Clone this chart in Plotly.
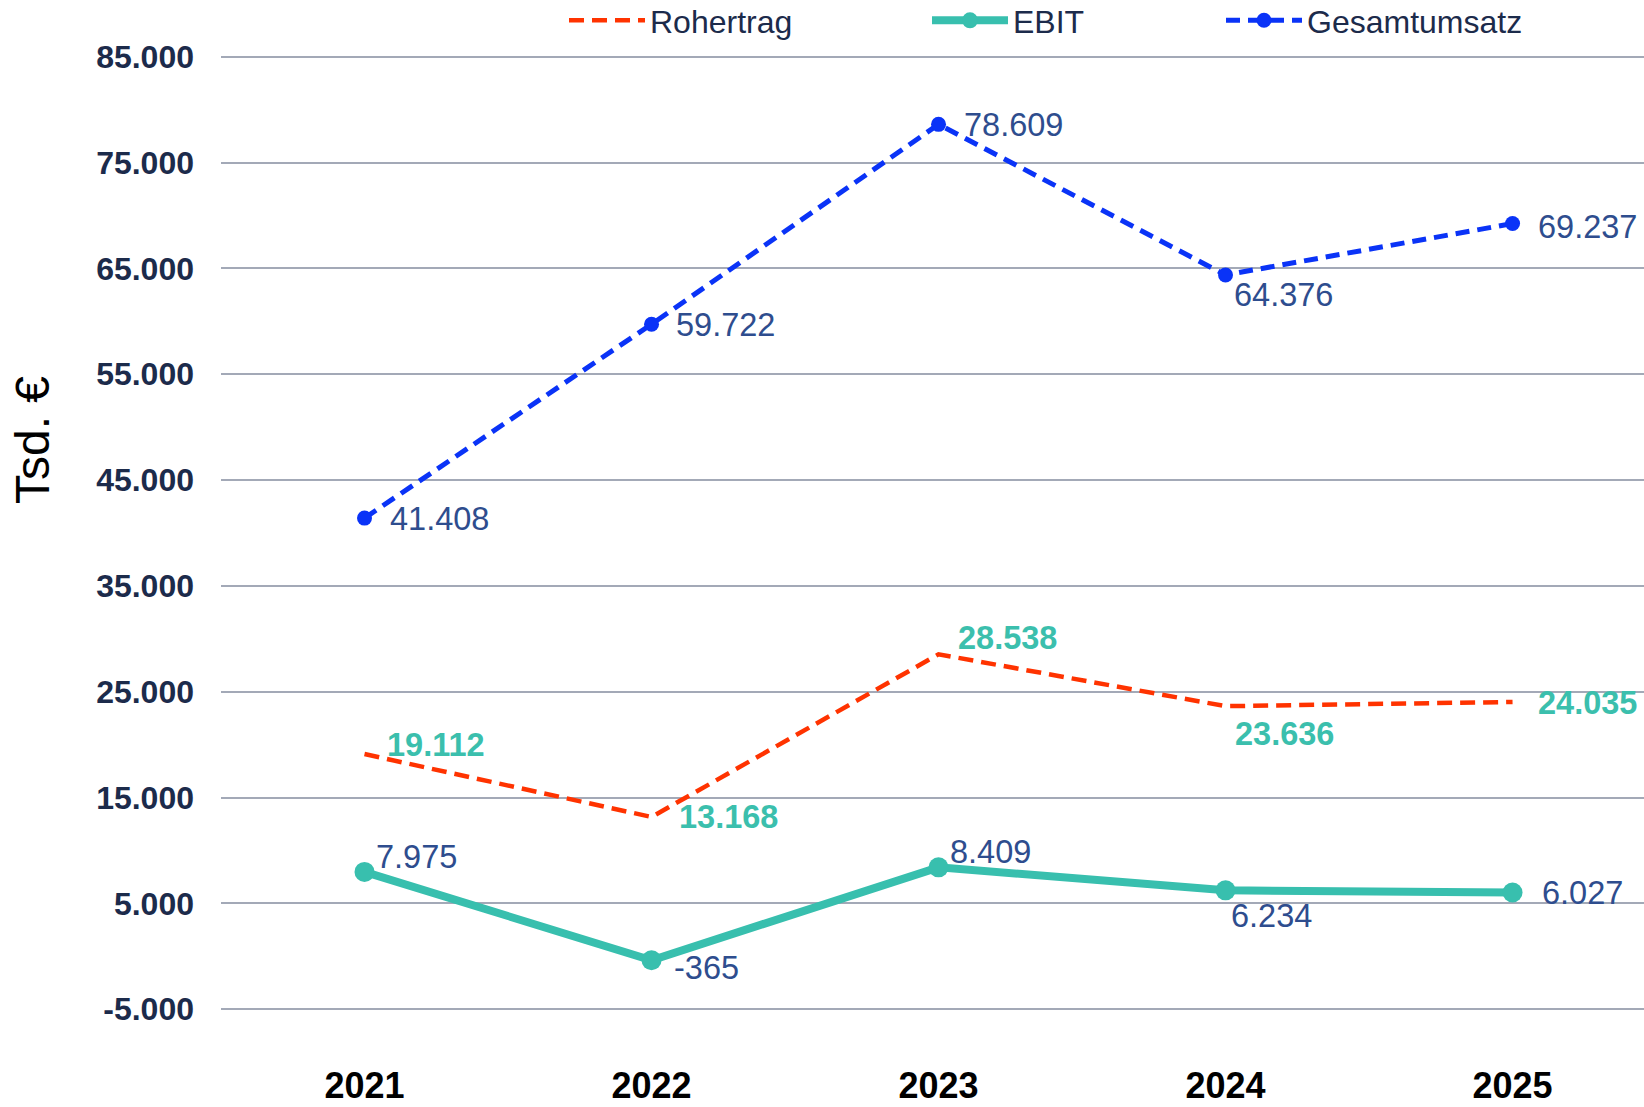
import plotly.graph_objects as go

# Jahre und Kennzahlen (Tsd. €)
jahre = [2021, 2022, 2023, 2024, 2025]
rohertrag = [19112, 13168, 28538, 23636, 24035]
ebit = [7975, -365, 8409, 6234, 6027]
gesamtumsatz = [41408, 59722, 78609, 64376, 69237]

y_ticks = [-5000, 5000, 15000, 25000, 35000, 45000, 55000, 65000, 75000, 85000]

# Versatz der Datenbeschriftungen (px: rechts, unten)
off_roh = [(20, -9), (25, 0), (17, -16), (7, 28), (23, 1)]
off_ebit = [(9, -15), (20, 8), (9, -15), (3, 26), (27, 0)]
off_ges = [(23, 1), (22, 1), (23, 1), (6, 20), (23, 3)]


def de(v):
    # deutsches Tausendertrennzeichen
    return f"{v:,.0f}".replace(",", ".")


FONT = "Arial, Liberation Sans, sans-serif"
NAVY = "#1c2b4b"
LBL_BLUE = "#2e4d8e"
TEAL = "#38bfae"
RED = "#ff3300"
BLUE = "#0a33f7"

W, H = 1644, 1107
L, T, B = 221, 45, 45
PW, PH = W - L, H - T - B

fig = go.Figure()

fig.add_trace(go.Scatter(
    x=jahre, y=rohertrag, name="Rohertrag", legend="legend",
    mode="lines",
    line=dict(color=RED, width=4.5, dash="15px,8px"),
    cliponaxis=False,
))
fig.add_trace(go.Scatter(
    x=jahre, y=ebit, name="EBIT", legend="legend2",
    mode="lines+markers",
    line=dict(color=TEAL, width=8),
    marker=dict(size=20, color=TEAL),
    cliponaxis=False,
))
fig.add_trace(go.Scatter(
    x=jahre, y=gesamtumsatz, name="Gesamtumsatz", legend="legend3",
    mode="lines+markers",
    line=dict(color=BLUE, width=5, dash="14px,8px"),
    marker=dict(size=15, color=BLUE),
    cliponaxis=False,
))

labels = []
for vals, offs, col, bold in [(rohertrag, off_roh, "#3bbfad", True),
                              (ebit, off_ebit, LBL_BLUE, False),
                              (gesamtumsatz, off_ges, LBL_BLUE, False)]:
    for j, v, (dx, dy) in zip(jahre, vals, offs):
        labels.append(dict(x=j, y=v, xref="x", yref="y", text=de(v), showarrow=False,
                           xanchor="left", yanchor="middle", xshift=dx, yshift=-dy,
                           font=dict(family=FONT, size=32.5, color=col,
                                     weight=700 if bold else 400)))

labels.append(dict(text="Tsd. €", textangle=-90, xref="paper", yref="paper",
                   x=(33 - L) / PW, y=1 - (440 - T) / PH, showarrow=False,
                   xanchor="center", yanchor="middle",
                   font=dict(family=FONT, size=48, color="black")))

leg = dict(orientation="h", xref="paper", yref="paper", yanchor="top",
           xanchor="left", y=1 + (T + 7) / PH, itemwidth=76, bgcolor="rgba(0,0,0,0)",
           font=dict(family=FONT, size=32, color=NAVY))

fig.update_layout(
    width=W, height=H, autosize=False,
    margin=dict(l=L, r=0, t=T, b=B, autoexpand=False),
    paper_bgcolor="white", plot_bgcolor="white",
    font=dict(family=FONT),
    showlegend=True,
    legend=dict(leg, x=(564 - L) / PW),
    legend2=dict(leg, x=(927 - L) / PW),
    legend3=dict(leg, x=(1221 - L) / PW),
    xaxis=dict(range=[2020.5, 2025.458], tickvals=jahre, ticktext=[str(j) for j in jahre],
               showgrid=False, showline=False, zeroline=False,
               ticks="", ticklabelstandoff=-1,
               tickfont=dict(family=FONT, size=36, color="black", weight="bold")),
    yaxis=dict(range=[-9983, 86105], tickvals=y_ticks, ticktext=[de(v) for v in y_ticks],
               showgrid=True, gridcolor="#a3a9b7", gridwidth=1.5, zeroline=False,
               showline=False, ticks="", ticklabelstandoff=26,
               tickfont=dict(family=FONT, size=32, color=NAVY, weight="bold")),
    annotations=labels,
)

# Seitenrand entfernen, damit die Figur bei 0,0 beginnt
fig.write_html("out.html", config={"displayModeBar": False},
               post_script="document.body.style.margin='0';")
